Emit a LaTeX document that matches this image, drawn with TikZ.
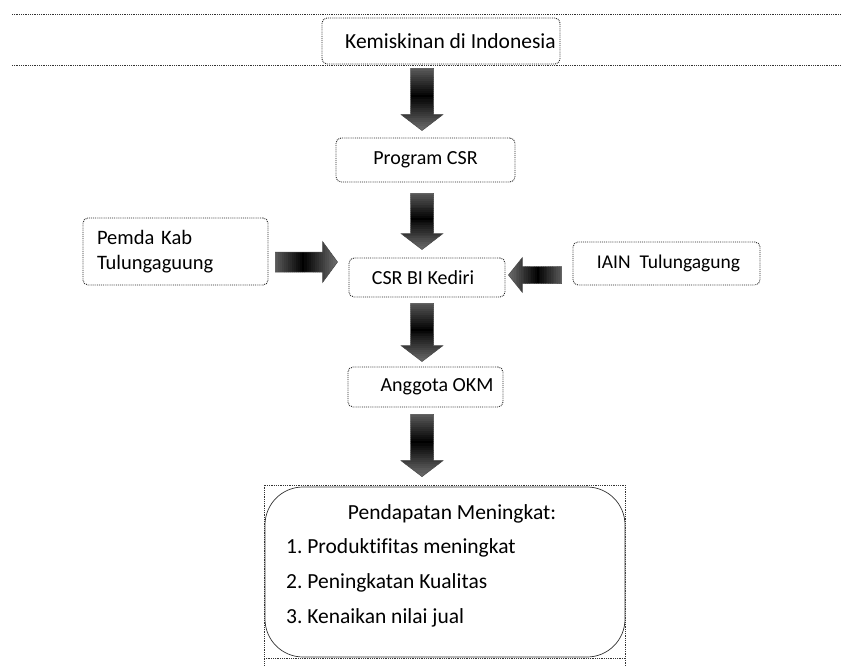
\documentclass[tikz,border=0pt]{standalone}
\usepackage{fontspec}
\setmainfont{Carlito}[Ligatures=NoCommon]
\usepackage{xcolor}
\usetikzlibrary{calc}

\tikzset{
  kotak/.style={draw=black!85, densely dotted, line width=0.9pt, rounded corners=5pt,
    fill=white, inner sep=0pt, font=\fontsize{20}{24}\selectfont},
  hasil/.style={draw=black!80, line width=0.7pt, rounded corners=38pt, fill=white},
  teks/.style={inner sep=0pt, font=\fontsize{21.5}{24}\selectfont},
  garis/.style={draw=black!80, densely dotted, line width=0.8pt},
  tepi/.style={draw=black!70, line width=0.5pt},
}

% gradasi sepanjang panah: abu-abu - hitam - abu-abu
\newcommand{\isiarsir}[3]{%
  \foreach \i in {0,...,29}{
    \pgfmathtruncatemacro\tingkat{100-42*abs((\i+0.5)/30-0.45)/0.55}
    \fill[black!\tingkat] ($(#1)!{\i/30}!(#2)-#3$) rectangle ($(#1)!{(\i+1.4)/30}!(#2)+#3$);}}
% panah blok ke bawah: dari #1 ke #2
\newcommand{\panahbawah}[2]{%
  \def\bentuk{($(#1)+(-11.5,0)$) -- ($(#2)+(-11.5,-16)$) -- ($(#2)+(-21,-16)$) -- (#2)
    -- ($(#2)+(21,-16)$) -- ($(#2)+(11.5,-16)$) -- ($(#1)+(11.5,0)$) -- cycle}
  \begin{scope}
    \clip \bentuk;
    \isiarsir{#1}{#2}{(25,0)}
  \end{scope}
  \draw[tepi] \bentuk;}
% panah blok mendatar: dari #1 ke #2, panjang kepala #3, lebar badan #4, lebar kepala #5
\newcommand{\panahdatar}[5]{%
  \def\bentuk{($(#1)+(0,-#4)$) -- ($(#2)+(-#3,-#4)$) -- ($(#2)+(-#3,-#5)$) -- (#2)
    -- ($(#2)+(-#3,#5)$) -- ($(#2)+(-#3,#4)$) -- ($(#1)+(0,#4)$) -- cycle}
  \begin{scope}
    \clip \bentuk;
    \isiarsir{#1}{#2}{(0,25)}
  \end{scope}
  \draw[tepi] \bentuk;}

\begin{document}
\begin{tikzpicture}[x=1pt, y=-1pt]
	\useasboundingbox (0,0) rectangle (841,666);
	% garis halaman
	\draw[garis] (12,14) -- (841,14);
	\draw[garis] (12,65) -- (841,65);
	\draw[garis] (625,666) -- (625,485) -- (264,485) -- (264,666);
	\draw[garis] (264,658) -- (625,658);
	
	\node[kotak, minimum width=238pt, minimum height=46pt, font=\fontsize{21.5}{24}\selectfont] (masalah) at (441,41) {\hspace*{19pt}Kemiskinan di Indonesia};
	\node[kotak, minimum width=179pt, minimum height=44pt] (program) at (425.5,160) {Program CSR};
	\node[kotak, minimum width=156pt, minimum height=39pt] (csrbi) at (427,277.5) {CSR BI Kediri\hspace*{8pt}};
	\node[kotak, minimum width=185pt, minimum height=67pt, text width=157pt, align=left,
		font=\fontsize{20.5}{25}\selectfont] (pemda) at (175.5,251.5) {Pemda Kab\\Tulungaguung};
	\node[kotak, minimum width=187pt, minimum height=43pt, font=\fontsize{19.5}{24}\selectfont] (iain) at (666.5,263.5) {\hspace*{4pt}IAIN\ \ Tulungagung};
	\node[kotak, minimum width=155pt, minimum height=40pt] (anggota) at (425.5,387) {\hspace*{23pt}Anggota OKM};
	\node[hasil, minimum width=360pt, minimum height=170pt] (pendapatan) at (445,572) {};
	\node[teks] (judul) at (452,514) {Pendapatan Meningkat:};
	\node[teks, anchor=west] (poin1) at (286,548) {1.\ Produktifitas meningkat};
	\node[teks, anchor=west] (poin2) at (286,583) {2.\ Peningkatan Kualitas};
	\node[teks, anchor=west] (poin3) at (286,618) {3.\ Kenaikan nilai jual};
	
	% titik ujung panah
	\coordinate (sumbu) at (422,0);
	\coordinate (kiri) at (0,262);
	\coordinate (kanan) at (0,275);
	\coordinate (a1) at ($(masalah.south -| sumbu)+(0,4)$);
	\coordinate (b1) at ($(program.north -| sumbu)+(0,-7)$);
	\coordinate (a2) at ($(program.south -| sumbu)+(0,11)$);
	\coordinate (b2) at ($(csrbi.north -| sumbu)+(0,-8)$);
	\coordinate (a3) at ($(csrbi.south -| sumbu)+(0,6)$);
	\coordinate (b3) at ($(anggota.north -| sumbu)+(0,-5)$);
	\coordinate (a4) at ($(anggota.south -| sumbu)+(0,7)$);
	\coordinate (b4) at ($(pendapatan.north -| sumbu)+(0,-10)$);
	\coordinate (a5) at ($(pemda.east |- kiri)+(7,0)$);
	\coordinate (b5) at ($(csrbi.west |- kiri)+(-11,0)$);
	\coordinate (a6) at ($(iain.west |- kanan)+(-11,0)$);
	\coordinate (b6) at ($(csrbi.east |- kanan)+(3,0)$);
	
	\panahbawah{a1}{b1}
	\panahbawah{a2}{b2}
	\panahbawah{a3}{b3}
	\panahbawah{a4}{b4}
	\panahdatar{a5}{b5}{15}{10}{20.5}
	\panahdatar{a6}{b6}{-14}{8.5}{17.5}
\end{tikzpicture}
\end{document}
